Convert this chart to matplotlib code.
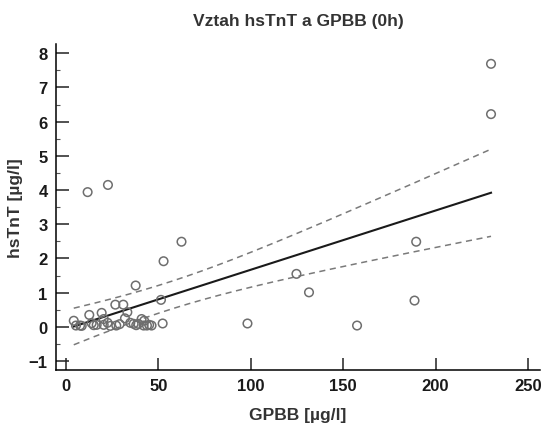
import matplotlib
matplotlib.use('Agg')
import matplotlib.pyplot as plt
import numpy as np

# GPBB [ug/l] vs hsTnT [ug/l]
# (the low cluster has a few overlapping circles)
gpbb = [230.0, 230.0, 11.7, 22.7, 62.5, 52.8, 37.7, 51.4, 98.2, 52.3,
        124.7, 131.5, 157.5, 189.5, 188.6,
        4.2, 5.4, 7.6, 12.6, 13.9, 16.6, 19.3, 20.4, 20.4, 22.5,
        26.7, 27.2, 31.0, 31.9, 33.2, 34.8, 36.6, 39.1, 40.9, 42.0,
        43.8, 46.3, 42.3,
        8.5, 15.0, 24.0, 29.0, 38.0, 45.0]
hstnt = [7.69, 6.22, 3.94, 4.15, 2.49, 1.92, 1.21, 0.79, 0.10, 0.10,
         1.55, 1.01, 0.04, 2.49, 0.77,
         0.18, 0.04, 0.04, 0.35, 0.11, 0.06, 0.41, 0.23, 0.06, 0.12,
         0.65, 0.04, 0.65, 0.25, 0.43, 0.12, 0.09, 0.09, 0.23, 0.04,
         0.04, 0.04, 0.18,
         0.03, 0.05, 0.03, 0.08, 0.05, 0.06]

title = 'Vztah hsTnT a GPBB (0h)'
xlabel = 'GPBB [µg/l]'
ylabel = 'hsTnT [µg/l]'
xticks = [0, 50, 100, 150, 200, 250]
yticks = [-1, 0, 1, 2, 3, 4, 5, 6, 7, 8]

plt.rcParams['font.family'] = ['Liberation Sans', 'DejaVu Sans']

x = np.array(gpbb)
y = np.array(hstnt)

# linear regression + 95% confidence band of the mean
b, a = np.polyfit(x, y, 1)
n = len(x)
resid = y - (a + b * x)
s = np.sqrt(np.sum(resid ** 2) / (n - 2))
xs = np.linspace(x.min(), x.max(), 200)
t = 2.02
se = s * np.sqrt(1.0 / n + (xs - x.mean()) ** 2 / np.sum((x - x.mean()) ** 2))
fit = a + b * xs

fig = plt.figure(figsize=(5.46, 4.31), dpi=100)
ax = fig.add_axes([0.1026, 0.1392, 0.8864, 0.7564])

ax.scatter(x, y, s=38, facecolors='none', edgecolors='#6e6e6e', linewidths=1.1, zorder=3)
ax.plot(xs, fit, color='#1a1a1a', lw=1.5, zorder=2)
ax.plot(xs, fit + t * se, color='#7a7a7a', lw=1.1, dashes=(4, 3))
ax.plot(xs, fit - t * se, color='#7a7a7a', lw=1.1, dashes=(4, 3))

ax.set_xlim(-5.4, 256.5)
ax.set_ylim(-1.26, 8.27)
ax.set_xticks(xticks)
ax.set_yticks(yticks)
ax.set_yticks(np.arange(-0.5, 8, 1.0), minor=True)
ax.tick_params(direction='in', length=9, width=1.1, labelsize=12, color='#222222', pad=6)
ax.tick_params(axis='y', which='minor', direction='in', length=3, width=0.8, color='#555555')
for lab in ax.get_xticklabels() + ax.get_yticklabels():
    lab.set_fontweight('bold')
    lab.set_color('#1a1a1a')

ax.spines['top'].set_visible(False)
ax.spines['right'].set_visible(False)
ax.spines['left'].set_linewidth(1.1)
ax.spines['bottom'].set_linewidth(1.1)

ax.set_xlabel(xlabel, fontsize=12.5, fontweight='bold', color='#333333', labelpad=10)
ax.set_ylabel(ylabel, fontsize=12.5, fontweight='bold', color='#333333', labelpad=4)
ax.set_title(title, fontsize=12.5, fontweight='bold', color='#333333', pad=14)

fig.savefig('out.png', dpi=100)
